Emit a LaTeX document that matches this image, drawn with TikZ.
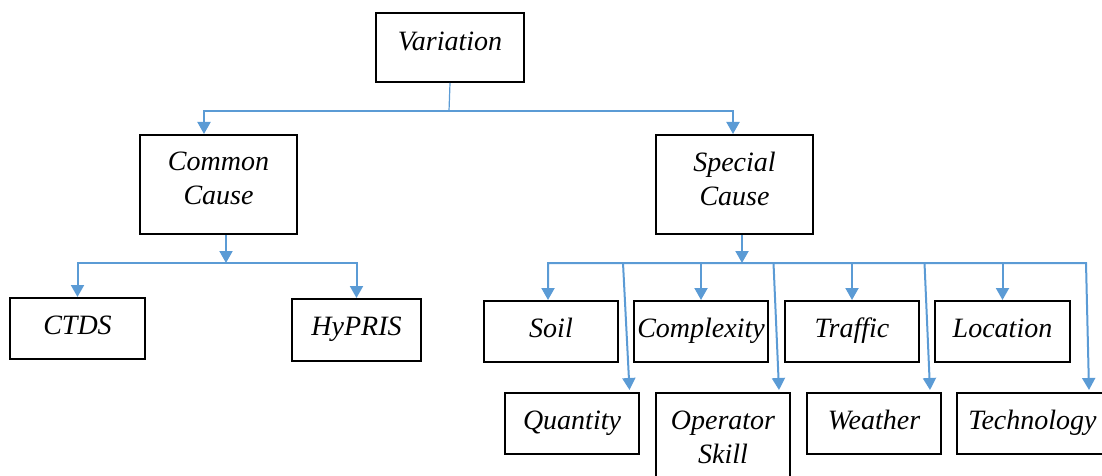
\documentclass[tikz,border=0pt]{standalone}
\usepackage{fontspec}
\setmainfont{Liberation Serif}[ItalicFont={Liberation Serif Italic}]
\usetikzlibrary{arrows.meta}
\definecolor{linkblue}{RGB}{91,155,213}
\begin{document}
\begin{tikzpicture}[x=1pt,y=-1pt,
  >={Triangle[length=12pt,width=13pt]},
  box/.style={draw=black, line width=2pt, anchor=north west, inner sep=0pt,
    align=center, text depth=7pt, font=\fontsize{28}{34}\selectfont\itshape},
  link/.style={draw=linkblue, line width=2pt},
  arr/.style={link, ->}]
\useasboundingbox (0,0) rectangle (1102,476);
\clip (0,0) rectangle (1102,476);

% top level
\node[box, minimum width=148pt, minimum height=69pt, text depth=13pt] (var) at (375,12) {Variation};
\node[box, minimum width=157pt, minimum height=99pt, text depth=12pt] (cc) at (139,134) {Common\\Cause};
\node[box, minimum width=157pt, minimum height=99pt, text depth=12pt] (sc) at (655,134) {Special\\Cause};

% common cause branch
\node[box, minimum width=135pt, minimum height=61pt] (ctds) at (9,297) {CTDS};
\node[box, minimum width=129pt, minimum height=62pt] (hypris) at (291,298) {HyPRIS};

% special cause branch, upper row
\node[box, minimum width=134pt, minimum height=61pt] (soil) at (483,300) {Soil};
\node[box, minimum width=134pt, minimum height=61pt] (cplx) at (633,300) {Complexity};
\node[box, minimum width=134pt, minimum height=61pt] (traffic) at (784,300) {Traffic};
\node[box, minimum width=135pt, minimum height=61pt] (loc) at (934,300) {Location};

% special cause branch, lower row
\node[box, minimum width=134pt, minimum height=61pt] (qty) at (504,392) {Quantity};
\node[box, minimum width=134pt, minimum height=98pt, text depth=10pt] (op) at (655,392) {Operator\\Skill};
\node[box, minimum width=134pt, minimum height=61pt] (weather) at (806,392) {Weather};
\node[box, minimum width=151pt, minimum height=61pt] (tech) at (956,392) {Technology};

% variation -> causes
\coordinate (vj) at (449,111);
\draw[link, line width=1.2pt] (var.south) -- (vj);
\coordinate (vbl) at (204,111);
\coordinate (vbr) at (733,111);
\draw[link, <->] (vbl |- cc.north) -- (vbl) -- (vbr) -- (vbr |- sc.north);

% common cause -> tools
\coordinate (cj) at (226,263);
\draw[arr] (cj |- cc.south) -- (cj);
\draw[link, <->] (ctds.north) -- (ctds.north |- cj) -- (hypris.north |- cj) -- (hypris.north);

% special cause -> factors
\coordinate (sj) at (742,263);
\draw[arr] (sj |- sc.south) -- (sj);
\coordinate (sbl) at (548,263);
\coordinate (sbr) at (1086,263);
\coordinate (ttech) at (1089,390);
\draw[link, <->] (sbl |- soil.north) -- (sbl) -- (sbr) -- (ttech);
\draw[arr] (cplx.north |- sj) -- (cplx.north);
\draw[arr] (traffic.north |- sj) -- (traffic.north);
\draw[arr] (loc.north |- sj) -- (loc.north);

% long drops to the lower row
\coordinate (sq) at (623,263);
\coordinate (so) at (773.5,263);
\coordinate (sw) at (924.5,263);
\draw[arr] (sq) -- ([xshift=-10.5pt,yshift=2pt]qty.north east);
\draw[arr] (so) -- ([xshift=-12pt,yshift=2pt]op.north east);
\draw[arr] (sw) -- ([xshift=-12pt,yshift=2pt]weather.north east);
\end{tikzpicture}
\end{document}
